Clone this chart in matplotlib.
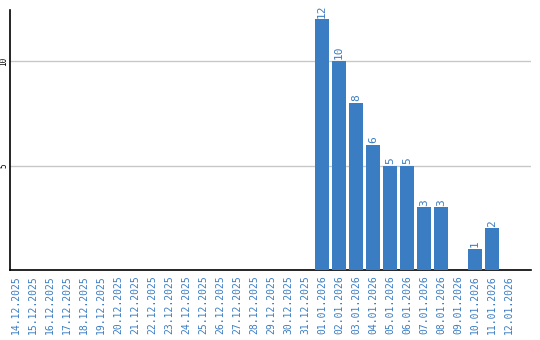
import matplotlib
matplotlib.use("Agg")
import matplotlib.pyplot as plt

dates = ["14.12.2025", "15.12.2025", "16.12.2025", "17.12.2025", "18.12.2025",
         "19.12.2025", "20.12.2025", "21.12.2025", "22.12.2025", "23.12.2025",
         "24.12.2025", "25.12.2025", "26.12.2025", "27.12.2025", "28.12.2025",
         "29.12.2025", "30.12.2025", "31.12.2025", "01.01.2026", "02.01.2026",
         "03.01.2026", "04.01.2026", "05.01.2026", "06.01.2026", "07.01.2026",
         "08.01.2026", "09.01.2026", "10.01.2026", "11.01.2026", "12.01.2026"]
values = [0, 0, 0, 0, 0, 0, 0, 0, 0, 0, 0, 0, 0, 0, 0, 0, 0, 0,
          12, 10, 8, 6, 5, 5, 3, 3, 0, 1, 2, 0]
yticks = [5, 10]

W, H = 540, 340
fig = plt.figure(figsize=(W / 100, H / 100), dpi=100)
ax = fig.add_axes([10 / W, 70 / H, (531 - 10) / W, (270 - 10) / H])

bar_color = "#3a7dc2"
label_color = "#3a7dc2"
x = list(range(len(dates)))
bars = ax.bar(x, values, width=0.82, color=bar_color, zorder=3)
for xi, v in zip(x, values):
    if v > 0:
        ax.text(xi, v + 0.08, str(v), rotation=90, ha="center", va="bottom",
                fontsize=8, color=label_color, family="DejaVu Sans Mono")

ax.set_xlim(-0.35, 30.3)
ax.set_ylim(0, 12.45)
ax.set_yticks(yticks)
ax.set_yticklabels([str(t) for t in yticks], rotation=90, va="center",
                   fontsize=5.5, family="DejaVu Sans Mono")
ax.set_xticks(x)
ax.set_xticklabels(dates, rotation=90, fontsize=7, color=label_color,
                   family="DejaVu Sans Mono")
ax.tick_params(axis="x", length=0, pad=4)
ax.tick_params(axis="y", length=0, pad=1)
ax.grid(axis="y", color="#c8c8c8", linewidth=1, zorder=0)
for s in ["top", "right"]:
    ax.spines[s].set_visible(False)
for s in ["left", "bottom"]:
    ax.spines[s].set_color("black")
    ax.spines[s].set_linewidth(1.2)

fig.savefig("out.png", dpi=100)
